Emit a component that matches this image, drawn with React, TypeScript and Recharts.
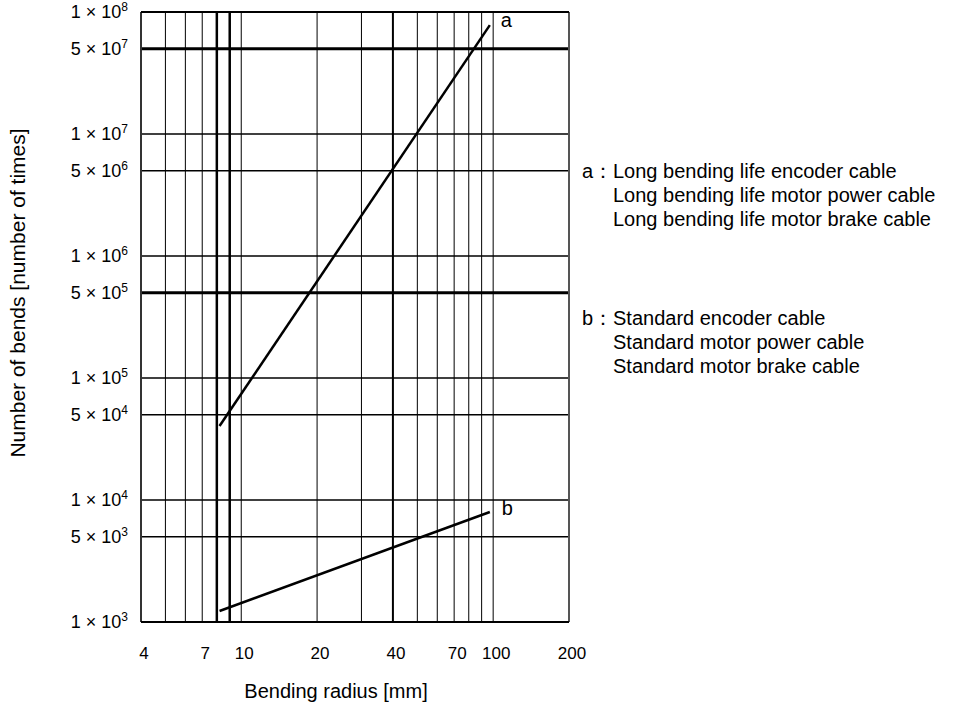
import React from 'react';
import { LineChart, Line, XAxis, YAxis, ReferenceLine } from 'recharts';

const radiusTicks = [4, 7, 10, 20, 40, 70, 100, 200];
const radiusGrid = [5, 6, 7, 8, 9, 10, 20, 30, 40, 50, 60, 70, 80, 90, 100];
const radiusGridThick = [8, 9, 40];
const bendTicks = [1e3, 5e3, 1e4, 5e4, 1e5, 5e5, 1e6, 5e6, 1e7, 5e7, 1e8];
const bendTickMantissa = ['1', '5', '1', '5', '1', '5', '1', '5', '1', '5', '1'];
const bendTickExponent = ['3', '3', '4', '4', '5', '5', '6', '6', '7', '7', '8'];
const bendGrid = [5e3, 1e4, 5e4, 1e5, 5e5, 1e6, 5e6, 1e7, 5e7];
const bendGridThick = [5e7, 5e5];
const radiusPoints = [8.2, 97];
const seriesA = [40400, 78000000];
const seriesB = [1230, 7980];
const legendA = ['Long bending life encoder cable', 'Long bending life motor power cable', 'Long bending life motor brake cable'];
const legendB = ['Standard encoder cable', 'Standard motor power cable', 'Standard motor brake cable'];

const data = radiusPoints.map((r, i) => ({ r, a: seriesA[i], b: seriesB[i] }));

const FONT = '"Liberation Sans", Arial, Helvetica, sans-serif';

const XTick = (props: any) => {
  const { x, y, payload } = props;
  return (
    <text x={x} y={y} dx={3} dy={29} textAnchor="middle" fontSize={17} fill="#000" fontFamily={FONT}>
      {payload.value}
    </text>
  );
};

const YTick = (props: any) => {
  const { x, y, payload } = props;
  const i = bendTicks.indexOf(payload.value);
  return (
    <text x={x - 5} y={y} dy={6} textAnchor="end" fontSize={18} fill="#000" fontFamily={FONT}>
      <tspan>{bendTickMantissa[i]} × 10</tspan>
      <tspan dy={-7} fontSize={12}>{bendTickExponent[i]}</tspan>
    </text>
  );
};

const endLabel = (name: string, dx: number, dy: number) => (props: any) => {
  const { x, y, index } = props;
  if (index !== data.length - 1) return <g />;
  return (
    <text x={x + dx} y={y + dy} fontSize={20} fill="#000" fontFamily={FONT}>
      {name}
    </text>
  );
};

export default function App() {
  const legendText: React.CSSProperties = {
    position: 'absolute',
    fontFamily: FONT,
    fontSize: 20,
    lineHeight: '24px',
    color: '#000',
    whiteSpace: 'nowrap',
  };
  return (
    <div
      style={{
        position: 'absolute',
        left: 0,
        top: 0,
        width: 966,
        height: 707,
        overflow: 'hidden',
        fontFamily: FONT,
        background: '#fff',
      }}
    >
      <style>{'svg { overflow: visible !important; }'}</style>
      <LineChart width={966} height={707} data={data} margin={{ top: 12, right: 397, bottom: 45, left: 0 }}>
        <XAxis
          dataKey="r"
          type="number"
          scale="log"
          domain={[4, 200]}
          ticks={radiusTicks}
          allowDataOverflow
          axisLine={false}
          tickLine={false}
          height={40}
          tick={<XTick />}
          interval={0}
        />
        <YAxis
          type="number"
          scale="log"
          domain={[1e3, 1e8]}
          ticks={bendTicks}
          allowDataOverflow
          axisLine={false}
          tickLine={false}
          width={141}
          tick={<YTick />}
          interval={0}
        />
        {radiusGrid.map((v) => (
          <ReferenceLine
            key={'vx' + v}
            x={v}
            stroke="#000"
            strokeWidth={radiusGridThick.includes(v) ? (v === 40 ? 2 : 2.5) : 1}
          />
        ))}
        {bendGrid.map((v) => (
          <ReferenceLine
            key={'hy' + v}
            y={v}
            stroke="#000"
            strokeWidth={bendGridThick.includes(v) ? 3 : 1.6}
          />
        ))}
        <ReferenceLine x={4} stroke="#333" strokeWidth={2} />
        <ReferenceLine x={200} stroke="#555" strokeWidth={2} />
        <ReferenceLine y={1e8} stroke="#000" strokeWidth={2} />
        <ReferenceLine y={1e3} stroke="#000" strokeWidth={2} />
        <Line
          dataKey="a"
          stroke="#000"
          strokeWidth={2.5}
          dot={false}
          isAnimationActive={false}
          label={endLabel('a', 11, 2)}
        />
        <Line
          dataKey="b"
          stroke="#000"
          strokeWidth={2.5}
          dot={false}
          isAnimationActive={false}
          label={endLabel('b', 12, 3)}
        />
      </LineChart>
      <div
        style={{
          position: 'absolute',
          left: 18,
          top: 293,
          transform: 'translate(-50%, -50%) rotate(-90deg)',
          fontSize: 21,
          whiteSpace: 'nowrap',
          color: '#000',
        }}
      >
        Number of bends [number of times]
      </div>
      <div
        style={{
          position: 'absolute',
          left: 336,
          top: 691,
          transform: 'translate(-50%, -50%)',
          fontSize: 20,
          whiteSpace: 'nowrap',
          color: '#000',
        }}
      >
        Bending radius [mm]
      </div>
      <div style={{ ...legendText, left: 582, top: 159 }}>a：</div>
      {legendA.map((t, i) => (
        <div key={'la' + i} style={{ ...legendText, left: 613, top: 159 + i * 24 }}>
          {t}
        </div>
      ))}
      <div style={{ ...legendText, left: 582, top: 306 }}>b：</div>
      {legendB.map((t, i) => (
        <div key={'lb' + i} style={{ ...legendText, left: 613, top: 306 + i * 24 }}>
          {t}
        </div>
      ))}
    </div>
  );
}
